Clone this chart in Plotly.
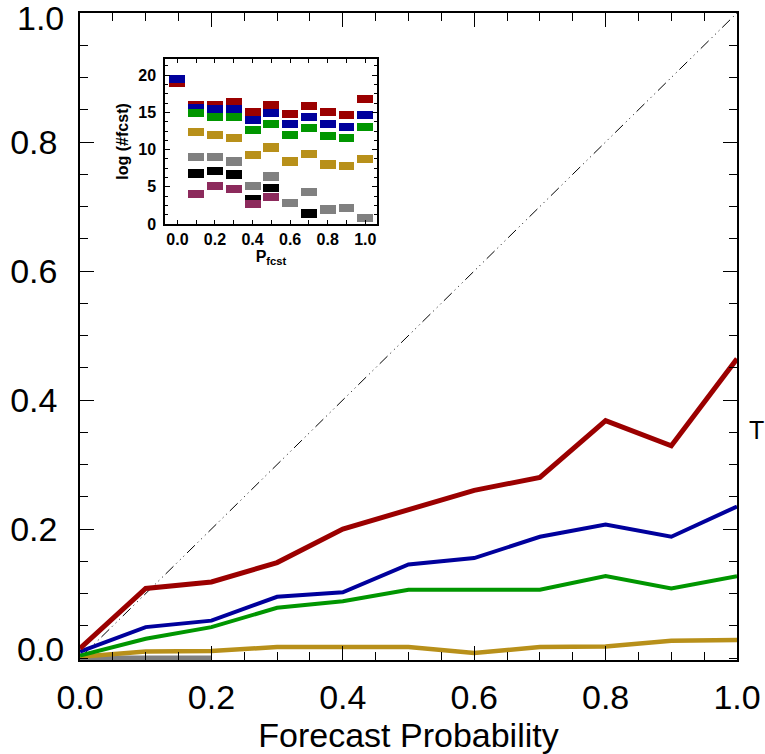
import plotly.graph_objects as go

# ---------------- data ----------------
prob = [0.0, 0.1, 0.2, 0.3, 0.4, 0.5, 0.6, 0.7, 0.8, 0.9, 1.0]

# main panel: observed frequency per forecast probability bin
red_freq = [0.015, 0.108, 0.118, 0.148, 0.200, 0.230, 0.260, 0.280, 0.368, 0.329, 0.464]
blue_freq = [0.010, 0.048, 0.058, 0.095, 0.102, 0.145, 0.155, 0.188, 0.207, 0.188, 0.235]
green_freq = [0.004, 0.030, 0.048, 0.078, 0.088, 0.106, 0.106, 0.106, 0.127, 0.108, 0.127]
gold_freq = [0.002, 0.010, 0.011, 0.017, 0.017, 0.017, 0.008, 0.017, 0.018, 0.027, 0.028]
grey_freq = [0.0, 0.0, 0.0, None, None, None, None, None, None, None, None]

# inset: log(#fcst) per bin
red_cnt = [19.0, 16.0, 16.0, 16.4, 15.05, 16.0, 14.8, 15.9, 15.05, 14.7, 16.8]
blue_cnt = [19.5, 15.6, 15.4, 15.5, 14.0, 14.9, 13.4, 14.4, 13.5, 13.1, 14.7]
green_cnt = [None, 14.9, 14.4, 14.4, 12.7, 13.4, 12.0, 12.9, 11.8, 11.6, 13.0]
gold_cnt = [None, 12.35, 12.0, 11.6, 9.3, 10.3, 8.4, 9.4, 8.0, 7.85, 8.8]
grey_cnt = [None, 9.0, 9.0, 8.4, 5.1, 6.4, 2.85, 4.3, 1.95, 2.2, 0.85]
black_cnt = [None, 6.8, 7.1, 6.65, 3.4, 4.85, None, 1.4, None, None, None]
purple_cnt = [None, 4.0, 5.1, 4.7, 2.7, 3.65, None, None, None, None, None]

x_ticks = [0.0, 0.2, 0.4, 0.6, 0.8, 1.0]
y_ticks_axis = [0.2, 0.4, 0.6, 0.8]
y_ticks_end = [0.0, 1.0]
inset_y_ticks = [0, 5, 10, 15, 20]

C_RED = "#9b0000"
C_BLUE = "#00009c"
C_GREEN = "#009600"
C_GOLD = "#b8901a"
C_GREY = "#808080"
C_BLACK = "#000000"
C_PURPLE = "#8c2a5c"

fig = go.Figure()

# diagonal reference
fig.add_trace(go.Scatter(x=[0, 1], y=[0, 1], mode="lines",
                         line=dict(color="black", width=1,
                                   dash="11px,4px,1px,4px,1px,4px,1px,4px"),
                         hoverinfo="skip", showlegend=False))

for vals, col, w in [(grey_freq, C_GREY, 5), (gold_freq, C_GOLD, 4.5),
                     (green_freq, C_GREEN, 4), (blue_freq, C_BLUE, 4),
                     (red_freq, C_RED, 5)]:
    fig.add_trace(go.Scatter(x=prob, y=vals, mode="lines",
                             line=dict(color=col, width=w),
                             connectgaps=False, showlegend=False))

# inset bars
BAR_H = 1.1
for vals, col in [(red_cnt, C_RED), (blue_cnt, C_BLUE), (green_cnt, C_GREEN),
                  (gold_cnt, C_GOLD), (grey_cnt, C_GREY), (black_cnt, C_BLACK),
                  (purple_cnt, C_PURPLE)]:
    xs = [p for p, v in zip(prob, vals) if v is not None]
    vs = [v for v in vals if v is not None]
    fig.add_trace(go.Bar(x=xs, y=[BAR_H] * len(vs), base=[v - BAR_H / 2 for v in vs],
                         width=0.085, marker=dict(color=col, line=dict(width=0)),
                         xaxis="x2", yaxis="y2", showlegend=False))

FAM = "Liberation Sans, Arial, sans-serif"
main_font = dict(family=FAM, size=34, color="black")
inset_font = dict(family=FAM, size=16, color="black", weight="bold")

# end labels of the y axis (0.0 raised, 1.0 lowered as in the reference)
end_annots = [dict(text=f"{v:.1f}", xref="paper", yref="y", x=-0.0213, y=v,
                   yshift=(9 if v == 0 else -5), xanchor="right", yanchor="middle",
                   showarrow=False, font=main_font)
              for v in y_ticks_end]

fig.update_layout(
    width=765, height=754,
    margin=dict(l=80, r=28, t=13, b=94, autoexpand=False),
    paper_bgcolor="white", plot_bgcolor="white",
    barmode="overlay", bargap=0,
    showlegend=False,
    xaxis=dict(range=[0, 1], tickvals=x_ticks, tickformat=".1f",
               ticks="inside", ticklen=14, tickwidth=1.3, tickcolor="black",
               minor=dict(dtick=0.05, ticks="inside", ticklen=8, tickwidth=1.3,
                          tickcolor="black", showgrid=False),
               showline=True, linewidth=1.5, linecolor="black", mirror="ticks",
               showgrid=False, zeroline=False, tickfont=main_font,
               ticklabelstandoff=6, automargin=False, ticklabeloverflow="allow",
               title=dict(text="Forecast Probability", font=main_font, standoff=16)),
    yaxis=dict(range=[-0.003, 1.0], tickvals=y_ticks_axis, tickformat=".1f",
               ticks="inside", ticklen=14, tickwidth=1.3, tickcolor="black",
               minor=dict(dtick=0.05, ticks="inside", ticklen=8, tickwidth=1.3,
                          tickcolor="black", showgrid=False),
               showline=True, linewidth=1.5, linecolor="black", mirror="ticks",
               showgrid=False, zeroline=False, tickfont=main_font,
               ticklabelstandoff=14, automargin=False, ticklabeloverflow="allow"),
    xaxis2=dict(domain=[0.1294, 0.452], anchor="y2", range=[-0.066, 1.062],
                tickvals=x_ticks, tickformat=".1f",
                ticks="inside", ticklen=4, tickcolor="black",
                minor=dict(dtick=0.1, ticks="inside", ticklen=4, tickcolor="black",
                           showgrid=False),
                showline=True, linewidth=1.5, linecolor="black", mirror="ticks",
                showgrid=False, zeroline=False, tickfont=inset_font,
                automargin=False,
                title=dict(text="<b>P<sub>fcst</sub></b>", font=inset_font, standoff=2)),
    yaxis2=dict(domain=[0.674, 0.929], anchor="x2", range=[0, 22.2],
                tickvals=inset_y_ticks,
                ticks="inside", ticklen=5, tickcolor="black",
                minor=dict(dtick=1.25, ticks="inside", ticklen=3, tickcolor="black",
                           showgrid=False),
                showline=True, linewidth=1.5, linecolor="black", mirror="ticks",
                showgrid=False, zeroline=False, tickfont=inset_font,
                ticklabelstandoff=4, automargin=False,
                title=dict(text="<b>log (#fcst)</b>", font=inset_font, standoff=6)),
    annotations=end_annots + [
        dict(text="T", xref="paper", yref="paper", x=1.029, y=0.3555,
             xanchor="center", yanchor="middle", showarrow=False,
             font=dict(family=FAM, size=25, color="black"))],
)

fig.write_html("out.html")
